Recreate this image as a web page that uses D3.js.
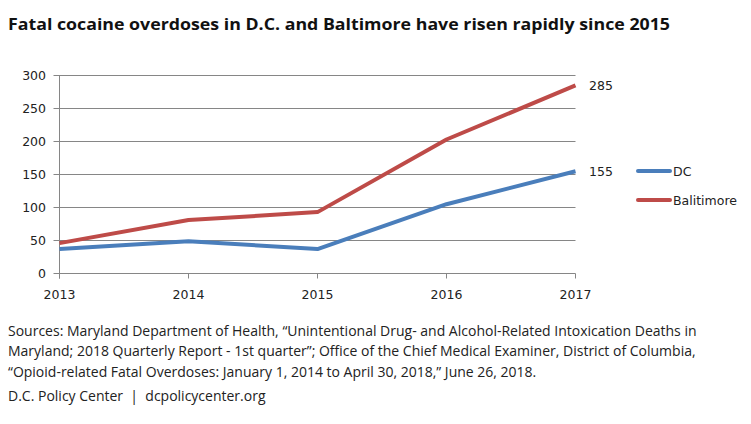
<!DOCTYPE html>
<html><head><meta charset="utf-8">
<script src="https://cdn.jsdelivr.net/npm/d3@7"></script>
<style>body{margin:0;background:#fff}</style>
</head><body>
<svg id="c" width="751" height="424"></svg>
<script>
const years = [2013, 2014, 2015, 2016, 2017];
const dcValues = [37, 49, 37, 105, 155];
const baltimoreValues = [46, 81, 93, 203, 285];
const yTicks = [0, 50, 100, 150, 200, 250, 300];
const seriesNames = ["DC", "Balitimore"];
const title = "Fatal cocaine overdoses in D.C. and Baltimore have risen rapidly since 2015";
const sourceLines = [
  "Sources: Maryland Department of Health, \u201cUnintentional Drug- and Alcohol-Related Intoxication Deaths in",
  "Maryland; 2018 Quarterly Report - 1st quarter\u201d; Office of the Chief Medical Examiner, District of Columbia,",
  "\u201cOpioid-related Fatal Overdoses: January 1, 2014 to April 30, 2018,\u201d June 26, 2018."
];
const credit = "D.C. Policy Center  |  dcpolicycenter.org";

const svg = d3.select("#c");
const colors = ["#4a7ebb", "#be4b48"];
const x = d3.scaleLinear().domain([2013, 2017]).range([59.5, 575.5]);
const y = d3.scaleLinear().domain([0, 300]).range([273.5, 75.5]);

svg.append("text").attr("x", 8).attr("y", 30).text(title)
  .attr("font-family", "'Open Sans', Lato, sans-serif").attr("font-weight", "bold")
  .attr("font-size", 16.5).attr("fill", "#111")
  .attr("textLength", 662).attr("lengthAdjust", "spacingAndGlyphs");

// grid
svg.append("g").selectAll("line").data(yTicks).join("line")
  .attr("x1", x(2013) - 6).attr("x2", x(2017)).attr("y1", d => y(d)).attr("y2", d => y(d))
  .attr("stroke", "#868686").attr("stroke-width", 1);
svg.append("line").attr("x1", x(2013)).attr("x2", x(2013)).attr("y1", y(300)).attr("y2", y(0) + 5)
  .attr("stroke", "#868686");
svg.append("g").selectAll("line").data(years).join("line")
  .attr("x1", d => x(d)).attr("x2", d => x(d)).attr("y1", y(0)).attr("y2", y(0) + 5)
  .attr("stroke", "#868686");

const tickFont = "'DejaVu Sans', Verdana, sans-serif";
svg.append("g").selectAll("text").data(yTicks).join("text")
  .attr("x", 46).attr("y", d => y(d) + 4.5).attr("text-anchor", "end")
  .attr("font-family", tickFont).attr("font-size", 12.5).attr("fill", "#222").text(d => d);
svg.append("g").selectAll("text").data(years).join("text")
  .attr("x", d => x(d)).attr("y", 299).attr("text-anchor", "middle")
  .attr("font-family", tickFont).attr("font-size", 12.5).attr("fill", "#222").text(d => d);

const line = d3.line().x((d, i) => x(years[i])).y(d => y(d));
[dcValues, baltimoreValues].forEach((vals, k) => {
  svg.append("path").datum(vals).attr("d", line).attr("fill", "none")
    .attr("stroke", colors[k]).attr("stroke-width", 4).attr("stroke-linejoin", "round");
  svg.append("text").attr("x", 589).attr("y", y(vals[vals.length - 1]) + 5)
    .attr("font-family", tickFont).attr("font-size", 12.5).attr("fill", "#222")
    .text(vals[vals.length - 1]);
});

seriesNames.forEach((n, k) => {
  const ly = 171 + k * 29;
  svg.append("line").attr("x1", 638).attr("x2", 670).attr("y1", ly).attr("y2", ly)
    .attr("stroke", colors[k]).attr("stroke-width", 4).attr("stroke-linecap", "round");
  svg.append("text").attr("x", 673).attr("y", ly + 5).text(n)
    .attr("font-family", tickFont).attr("font-size", 12.5).attr("fill", "#222");
});

const srcFont = "'Open Sans', sans-serif";
sourceLines.forEach((t, i) => {
  svg.append("text").attr("x", 8).attr("y", 336 + i * 20.3).text(t)
    .attr("font-family", srcFont).attr("font-size", 14).attr("fill", "#222");
});
svg.append("text").attr("x", 8).attr("y", 401).text(credit)
  .style("white-space", "pre")
  .attr("font-family", srcFont).attr("font-size", 14).attr("fill", "#222");
</script>
</body></html>
